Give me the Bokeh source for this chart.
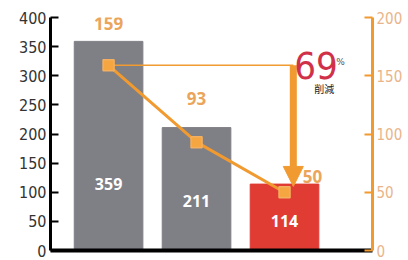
from bokeh.plotting import figure
from bokeh.models import (ColumnDataSource, Range1d, LinearAxis, Arrow, NormalHead,
                          Label, FixedTicker)
from bokeh.embed import file_html
from bokeh.resources import INLINE
from bokeh.core.properties import value

# ---- data ----
categories = ["A", "B", "C"]
bar_values = [359, 211, 114]          # left axis
line_values = [159, 93, 50]           # right axis
left_ticks = [0, 50, 100, 150, 200, 250, 300, 350, 400]
right_ticks = [0, 50, 100, 150, 200]
reduction_pct = "69"
reduction_unit = "%"
reduction_text = "削減"

GRAY = "#7f7f86"
RED = "#e03c33"
ORANGE = "#f09a30"
ORANGE_TXT = "#eba55a"
ORANGE_TICK = "#e9b48a"
CRIMSON = "#d03048"

xs = list(range(len(categories)))
bar_colors = [GRAY] * (len(categories) - 1) + [RED]

p = figure(frame_width=322, frame_height=233, output_backend="svg", toolbar_location=None,
           x_range=Range1d(-0.66, 3.0), y_range=Range1d(0, 400),
           min_border_left=50, min_border_right=36, min_border_top=17, min_border_bottom=10,
           x_axis_location=None, y_axis_location=None)
p.outline_line_color = None
p.grid.visible = False
p.background_fill_color = "white"
p.border_fill_color = "white"
p.extra_y_ranges = {"right": Range1d(0, 200)}

src = ColumnDataSource(dict(x=xs, bar=bar_values, line=line_values, color=bar_colors,
                            bar_lbl=[str(v) for v in bar_values],
                            line_lbl=[str(v) for v in line_values],
                            bar_dy=[-67, -50, -30],
                            line_dx=[0, 0, 28], line_dy=[-42, -44, -16]))

p.vbar(x="x", top="bar", width=0.78, color="color", source=src)

# thin reference line at first value
p.line(x=[xs[0], xs[-1] + 0.1], y=[line_values[0], line_values[0]], y_range_name="right",
       line_color=ORANGE, line_width=1.5)

p.line(x="x", y="line", source=src, y_range_name="right", line_color=ORANGE, line_width=3)
p.scatter(x="x", y="line", source=src, y_range_name="right", marker="square", size=11,
          fill_color="#f5a640", line_color="#f3b060", line_width=1.5)

# arrow
ax = xs[-1] + 0.1
p.add_layout(Arrow(x_start=ax, y_start=line_values[0], x_end=ax, y_end=line_values[-1] + 5,
                   y_range_name="right", line_color=ORANGE, line_width=7,
                   end=NormalHead(size=20, fill_color=ORANGE, line_color=ORANGE, line_width=1)))

# labels
p.text(x="x", y=0, text="bar_lbl", source=src, y_offset="bar_dy",
       text_color="white", text_font=value("Open Sans"), text_font_style="bold",
       text_font_size="16px", text_align="center", text_baseline="middle")
p.text(x="x", y="line", text="line_lbl", source=src, y_range_name="right",
       x_offset="line_dx", y_offset="line_dy",
       text_color=ORANGE_TXT, text_font=value("Open Sans"), text_font_style="bold",
       text_font_size="17px", text_align="center", text_baseline="middle")

p.add_layout(Label(x=ax, y=line_values[0], y_range_name="right", x_offset=1, y_offset=0,
                   text=reduction_pct, text_color=CRIMSON,
                   text_font="Liberation Sans Narrow, DejaVu Sans Condensed, sans-serif",
                   text_font_size="38px", text_baseline="middle"))
p.add_layout(Label(x=ax, y=line_values[0], y_range_name="right", x_offset=43, y_offset=3,
                   text=reduction_unit, text_color="#555555", text_font="DejaVu Sans",
                   text_font_size="9px", text_baseline="middle"))
p.add_layout(Label(x=ax, y=line_values[0], y_range_name="right", x_offset=21, y_offset=-23,
                   text=reduction_text, text_color="#222222", text_font="Noto Sans CJK JP",
                   text_font_size="10px", text_baseline="middle"))

# axes
left = LinearAxis(ticker=FixedTicker(ticks=left_ticks))
left.axis_line_color = "black"
left.axis_line_width = 3
left.major_tick_line_color = "black"
left.major_tick_line_width = 2
left.major_tick_in = 8
left.major_tick_out = 0
left.minor_tick_line_color = None
left.major_label_standoff = 4
left.major_label_text_color = "#333333"
left.major_label_text_font = "Liberation Sans Narrow, DejaVu Sans Condensed, sans-serif"
left.major_label_text_font_size = "16px"
p.add_layout(left, "left")

right = LinearAxis(y_range_name="right", ticker=FixedTicker(ticks=right_ticks))
right.axis_line_color = ORANGE
right.axis_line_width = 3
right.major_tick_line_color = ORANGE
right.major_tick_line_width = 2
right.major_tick_in = 8
right.major_tick_out = 0
right.minor_tick_line_color = None
right.major_label_standoff = 4
right.major_label_text_color = ORANGE_TICK
right.major_label_text_font = "Liberation Sans Narrow, DejaVu Sans Condensed, sans-serif"
right.major_label_text_font_size = "15px"
p.add_layout(right, "right")

bottom = LinearAxis(ticker=FixedTicker(ticks=[]))
bottom.axis_line_color = "black"
bottom.axis_line_width = 4
bottom.major_label_text_font_size = "0px"
bottom.major_tick_line_color = None
bottom.minor_tick_line_color = None
bottom.major_label_standoff = 0
p.add_layout(bottom, "below")

open("out.html", "w").write(file_html(p, INLINE))
